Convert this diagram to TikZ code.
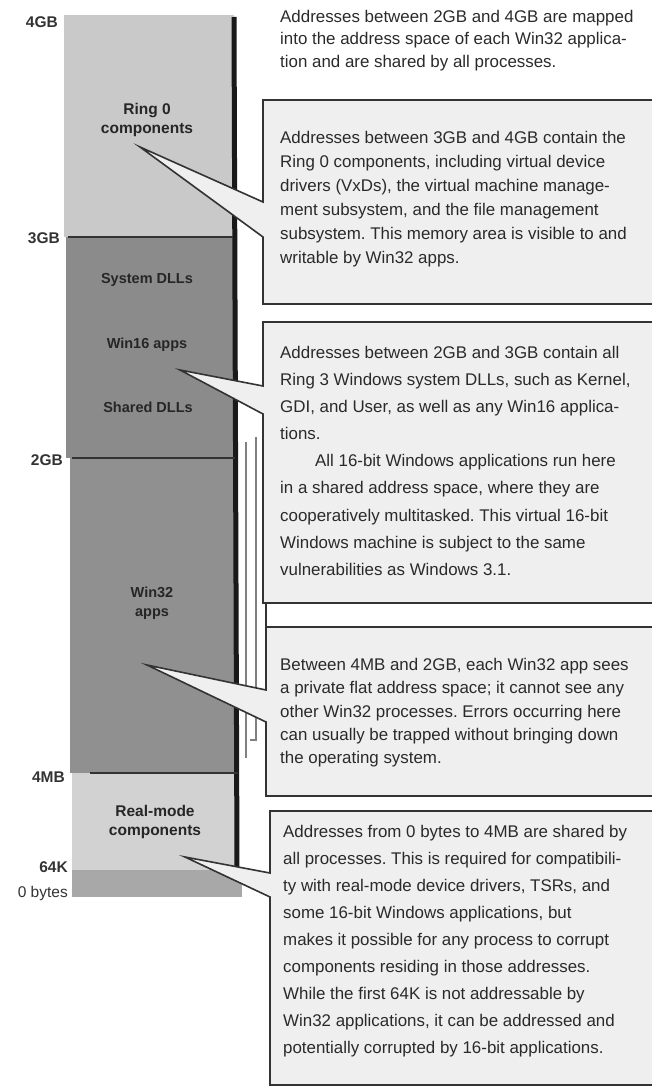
\documentclass[tikz,border=0pt]{standalone}
\usepackage{fontspec}
\setmainfont{Liberation Sans}
\usepackage{xcolor}
\usepackage{tikz}
\usetikzlibrary{positioning, calc}
\definecolor{ringgray}{HTML}{C9C9C9}
\definecolor{dllgray}{HTML}{8B8B8B}
\definecolor{appgray}{HTML}{909090}
\definecolor{realgray}{HTML}{D2D2D2}
\definecolor{lowgray}{HTML}{A8A8A8}
\definecolor{boxgray}{HTML}{EFEFEF}
\definecolor{ink}{HTML}{2A2A2A}
\frenchspacing
\tikzset{
  notetext/.style={
    anchor=north west,
    align=left,
    inner sep=0pt,
    text=ink,
    font=\fontsize{16.9}{23.6}\selectfont
  },
  calloutbox/.style={
    draw=black!80,
    fill=boxgray,
    line width=1.6pt,
    line join=miter
  },
  barlabel/.style={
    align=center,
    inner sep=0pt,
    text=black!85,
    font=\bfseries\fontsize{15.5}{19}\selectfont
  },
  innerlabel/.style={
    align=center,
    inner sep=0pt,
    text=black!85,
    font=\bfseries\fontsize{14.5}{19}\selectfont
  },
  addrlabel/.style={
    anchor=east,
    inner sep=0pt,
    text=black!80,
    font=\bfseries\fontsize{15.5}{16}\selectfont
  },
  divider/.style={
    line width=1.4pt,
    draw=black!80
  },
  shadowline/.style={
    line width=1.8pt,
    draw=black!50
  }
}

\begin{document}
\begin{tikzpicture}[x=1pt, y=-1pt]
  \useasboundingbox (0,0) rectangle (652,1089);
  \clip (0,0) rectangle (652,1089);

  % memory bar
  \fill[ringgray] (64,15) rectangle (234,237);
  \fill[dllgray] (66,237) rectangle (235,458);
  \fill[appgray] (70,458) rectangle (236,773);
  \fill[realgray] (72,773) rectangle (238,870);
  \fill[lowgray] (72,870) rectangle (242,897);
  \draw[line width=5pt, draw=black!90] (234,17) -- (237,868);
  \draw[divider] (68,237) -- (233,237);
  \draw[divider] (72,458) -- (235,458);
  \draw[divider] (90,773) -- (238,773);

  % lines beside the bar
  \draw[shadowline] (246,442) -- (246,758);
  \draw[shadowline] (256,437) -- (256,740) -- (250,740);

  % address marks
  \node[addrlabel] (gb4) at (58,22) {4GB};
  \node[addrlabel] (gb3) at (60,238) {3GB};
  \node[addrlabel] (gb2) at (63,460) {2GB};
  \node[addrlabel] (mb4) at (65,777) {4MB};
  \node[addrlabel] (k64) at (68,867) {64K};
  \node[addrlabel, font=\fontsize{15.5}{16}\selectfont] (bytes0) at (68,893) {0 bytes};

  % regions
  \node[barlabel] (ring0) at (147,120) {Ring 0\\components};
  \node[innerlabel] (sysdll) at (147,280) {System DLLs};
  \node[innerlabel] (win16) at (147,345) {Win16 apps};
  \node[innerlabel] (shdll) at (148,407) {Shared DLLs};
  \node[innerlabel] (win32) at (152,603) {Win32\\apps};
  \node[barlabel] (realmode) at (155,822) {Real-mode\\components};

  % callout tips
  \coordinate (ring0tip) at (140,147);
  \coordinate (win16tip) at (180,370);
  \coordinate (win32tip) at (147,665);
  \coordinate (realtip) at (185,857);

  % callouts
  \draw[calloutbox] (263,202) -- (263,100) -- (680,100) -- (680,304)
    -- (263,304) -- (263,237) -- (ring0tip) -- cycle;
  \draw[calloutbox] (263,386) -- (263,322) -- (680,322) -- (680,603)
    -- (263,603) -- (263,414) -- (win16tip) -- cycle;
  \draw[calloutbox] (266,690) -- (266,627) -- (680,627) -- (680,796)
    -- (266,796) -- (266,722) -- (win32tip) -- cycle;
  \draw[calloutbox] (270,873) -- (270,811) -- (680,811) -- (680,1085)
    -- (270,1085) -- (270,897) -- (realtip) -- cycle;
  \draw[line width=1.6pt, draw=black!80] (266,603) -- (266,627);

  % texts
  \node[notetext, font=\fontsize{16.9}{22.5}\selectfont] (topnote) at (280,10)
    {Addresses between 2GB and 4GB are mapped\\
     into the address space of each Win32 applica-\\
     tion and are shared by all processes.};
  \node[notetext, font=\fontsize{16.9}{24}\selectfont] (ring0note) at (280,131)
    {Addresses between 3GB and 4GB contain the\\
     Ring 0 components, including virtual device\\
     drivers (VxDs), the virtual machine manage-\\
     ment subsystem, and the file management\\
     subsystem. This memory area is visible to and\\
     writable by Win32 apps.};
  \node[notetext, font=\fontsize{16.9}{27.1}\selectfont] (win16note) at (280,346)
    {Addresses between 2GB and 3GB contain all\\
     Ring 3 Windows system DLLs, such as Kernel,\\
     GDI, and User, as well as any Win16 applica-\\
     tions.\\
     \hspace*{35pt}All 16-bit Windows applications run here\\
     in a shared address space, where they are\\
     cooperatively multitasked. This virtual 16-bit\\
     Windows machine is subject to the same\\
     vulnerabilities as Windows 3.1.};
  \node[notetext, font=\fontsize{16.9}{23.3}\selectfont] (win32note) at (280,658)
    {Between 4MB and 2GB, each Win32 app sees\\
     a private flat address space; it cannot see any\\
     other Win32 processes. Errors occurring here\\
     can usually be trapped without bringing down\\
     the operating system.};
  \node[notetext, font=\fontsize{16.9}{27}\selectfont] (realnote) at (283,825)
    {Addresses from 0 bytes to 4MB are shared by\\
     all processes. This is required for compatibili-\\
     ty with real-mode device drivers, TSRs, and\\
     some 16-bit Windows applications, but\\
     makes it possible for any process to corrupt\\
     components residing in those addresses.\\
     While the first 64K is not addressable by\\
     Win32 applications, it can be addressed and\\
     potentially corrupted by 16-bit applications.};
\end{tikzpicture}
\end{document}
